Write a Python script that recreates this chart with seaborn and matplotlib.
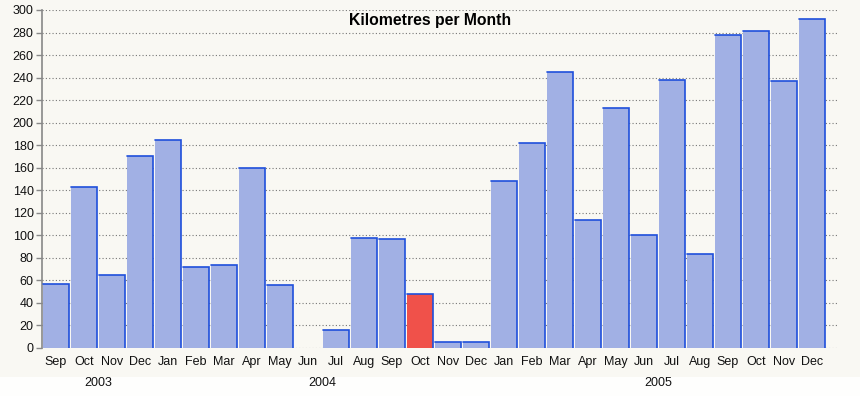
import matplotlib
matplotlib.use("Agg")
import matplotlib.pyplot as plt
import seaborn as sns
import pandas as pd
from matplotlib.patches import Rectangle

months = ["Sep", "Oct", "Nov", "Dec",
          "Jan", "Feb", "Mar", "Apr", "May", "Jun", "Jul", "Aug", "Sep", "Oct", "Nov", "Dec",
          "Jan", "Feb", "Mar", "Apr", "May", "Jun", "Jul", "Aug", "Sep", "Oct", "Nov", "Dec"]
km = [57, 143, 65, 170,
      185, 72, 74, 160, 56, 0, 16, 98, 97, 48, 5, 5,
      148, 182, 245, 114, 213, 100, 238, 83, 278, 281, 237, 292]
highlight = [False] * 13 + [True] + [False] * 14
years = ["2003", "2004", "2005"]
year_span = [(0, 3), (4, 15), (16, 27)]

df = pd.DataFrame({"idx": range(len(km)), "km": km,
                   "hl": ["cur" if h else "norm" for h in highlight]})

sns.set_theme(style="white")
plt.rcParams['font.family'] = ['Liberation Sans', 'DejaVu Sans']

bg = "#F9F8F3"
fig = plt.figure(figsize=(8.6, 3.96), dpi=100, facecolor=bg)
fig.add_artist(Rectangle((0, 0), 1, 19/396, transform=fig.transFigure,
                         facecolor="#FEFEFD", edgecolor="none", zorder=0))
ax = fig.add_axes([42/860, 48/396, (838-42)/860, (348-10)/396])
ax.set_facecolor(bg)

fill = {"norm": "#A1B0E4", "cur": "#F0514A"}
edge_color = "#1F4FDB"
sns.barplot(data=df, x="idx", y="km", hue="hl", palette=fill, dodge=False,
            legend=False, width=0.93, linewidth=0, saturation=1, ax=ax, zorder=3)

# top/right edges of bars derived from the bar geometry
patches = sorted([p for p in ax.patches if p.get_width() > 0], key=lambda p: p.get_x())
for p in patches:
    x0 = p.get_x(); x1 = x0 + p.get_width(); y1 = p.get_height()
    if y1 <= 0:
        continue
    ax.plot([x0, x1, x1], [y1, y1, 0], color=edge_color, lw=1.2, zorder=4,
            solid_joinstyle="miter")

ax.set_ylim(0, 300)
ax.set_xlim(-0.5, 27.93)
ax.set_yticks(range(0, 301, 20))
ax.yaxis.grid(True, linestyle=(0, (1, 2)), color="#777777", linewidth=0.8, zorder=0)
ax.xaxis.grid(False)
ax.set_xticks(range(len(months)))
ax.set_xticklabels(months, fontsize=9, color="#111111")
ax.tick_params(axis="x", length=0, pad=6)
ax.tick_params(axis="y", length=4, color="#888888", width=1, labelsize=9,
               labelcolor="#111111", pad=2, left=True)
for s in ["top", "right", "bottom"]:
    ax.spines[s].set_visible(False)
ax.spines["left"].set_color("#888888")
ax.spines["left"].set_linewidth(1.2)
ax.set_xlabel("")
ax.set_ylabel("")

for y, (a, b) in zip(years, year_span):
    ax.text((a + b) / 2, -31, y, ha="center", va="center", fontsize=9,
            color="#111111", transform=ax.transData, clip_on=False)

fig.text(0.5, 1 - 20/396, "Kilometres per Month", ha="center", va="center",
         fontsize=11.3, fontweight="bold", color="#000000")

fig.savefig("out.png", dpi=100, facecolor=bg)
